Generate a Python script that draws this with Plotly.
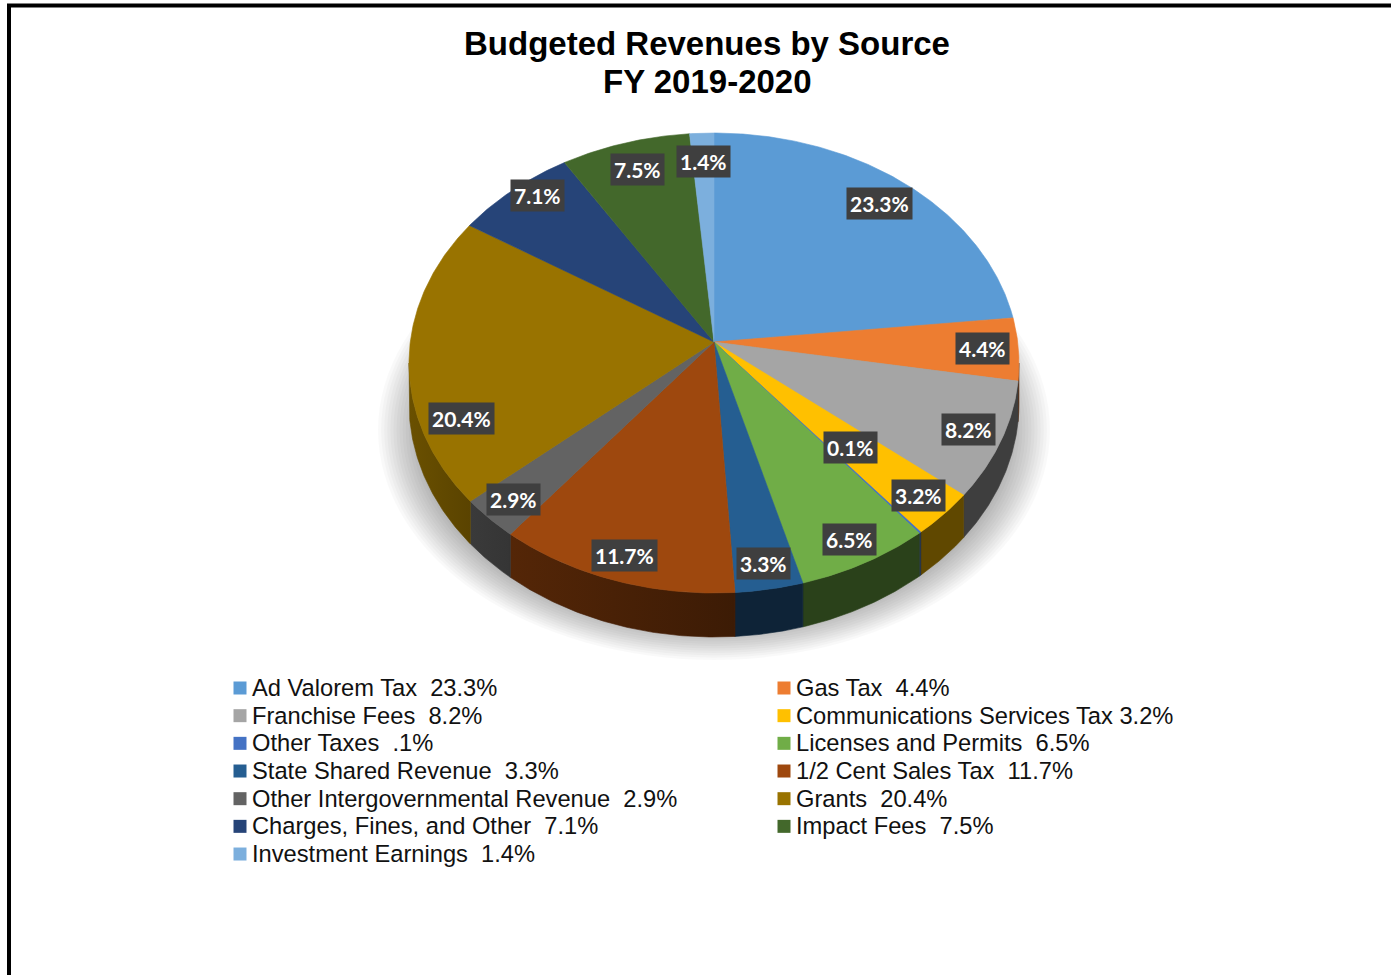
import numpy as np
import plotly.graph_objects as go

# ---- data -------------------------------------------------------------
categories = [
    "Ad Valorem Tax", "Gas Tax", "Franchise Fees", "Communications Services Tax",
    "Other Taxes", "Licenses and Permits", "State Shared Revenue",
    "1/2 Cent Sales Tax", "Other Intergovernmental Revenue", "Grants",
    "Charges, Fines, and Other", "Impact Fees", "Investment Earnings",
]
shares = [23.3, 4.4, 8.2, 3.2, 0.1, 6.5, 3.3, 11.7, 2.9, 20.4, 7.1, 7.5, 1.4]
colors = [
    "#5B9BD5", "#ED7D31", "#A5A5A5", "#FFC000", "#4472C4", "#70AD47", "#255E91",
    "#9E480E", "#636363", "#997300", "#264478", "#43682B", "#7CAFDD",
]

# ---- canvas / pie geometry (pixel-like axis units) --------------------
W, H = 1391, 975
CX, CY = 714, 342     # projected centre of the disc
SCALE = 303.7         # horizontal radius scale
TILT = 0.751          # sine of the viewing elevation
PERSP = 0.0913        # perspective strength (radius * cos(elev) / camera distance)
DEPTH = 40            # thickness of the disc

# label placement tweaks: (radius fraction, angle shift in degrees)
label_tweaks = {
    "Other Taxes": (0.62, -5.1),
    "Grants": (0.87, -17.6),
    "Charges, Fines, and Other": (0.92, 2.7),
}


def label_radius(theta_deg):
    # labels sit slightly further out toward the front of the disc
    return 0.88 - 0.025 * np.cos(np.radians(theta_deg))


def project(theta_deg, frac=1.0, drop=0.0):
    """Perspective projection of a point on the disc (theta clockwise from 12 o'clock)."""
    t = np.radians(theta_deg)
    w = 1.0 + PERSP * frac * np.cos(t)
    x = CX + SCALE * frac * np.sin(t) / w
    y = CY + (-SCALE * TILT * frac * np.cos(t) + drop) / w
    return x, y


def shade(hex_color, factor):
    h = hex_color.lstrip("#")
    r, g, b = (int(h[i:i + 2], 16) for i in (0, 2, 4))
    return "rgb({},{},{})".format(int(r * factor), int(g * factor), int(b * factor))


def side_factor(theta_deg):
    s = -np.sin(np.radians(theta_deg))
    return 0.38 + 0.32 * max(0.0, s) ** 1.5


total = float(sum(shares))
bounds = np.concatenate([[0.0], np.cumsum(shares)]) / total * 360.0

# silhouette of the cylinder wall under perspective
edge = np.degrees(np.arccos(-PERSP))
vis_lo, vis_hi = edge, 360.0 - edge

fig = go.Figure()

# ---- side walls (front half only) ------------------------------------
for i, col in enumerate(colors):
    lo = max(bounds[i], vis_lo)
    hi = min(bounds[i + 1], vis_hi)
    if hi <= lo:
        continue
    th = np.linspace(lo, hi, max(3, int((hi - lo) * 2) + 2))
    x, y = project(th)
    xb, yb = project(th, drop=DEPTH)
    px = np.concatenate([x, xb[::-1], x[:1]])
    py = np.concatenate([y, yb[::-1], y[:1]])
    left_c = shade(col, side_factor(hi))
    right_c = shade(col, side_factor(lo))
    fig.add_trace(go.Scatter(
        x=px, y=py, mode="lines", fill="toself",
        line=dict(width=0.6, color=shade(col, side_factor((lo + hi) / 2))),
        fillgradient=dict(type="horizontal",
                          colorscale=[[0, left_c], [1, right_c]]),
        hoverinfo="skip", showlegend=False,
    ))

# ---- top faces --------------------------------------------------------
for i, col in enumerate(colors):
    a0, a1 = bounds[i], bounds[i + 1]
    th = np.linspace(a0, a1, max(3, int((a1 - a0) * 2) + 2))
    x, y = project(th)
    px = np.concatenate([[CX], x, [CX]])
    py = np.concatenate([[CY], y, [CY]])
    fig.add_trace(go.Scatter(
        x=px, y=py, mode="lines", fill="toself", fillcolor=col,
        line=dict(width=0.6, color=col),
        hoverinfo="skip", showlegend=False, name=categories[i],
    ))

# ---- data labels ------------------------------------------------------
annotations = []
for i, name in enumerate(categories):
    mid = (bounds[i] + bounds[i + 1]) / 2
    frac, shift = label_tweaks.get(name, (label_radius(mid), 0.0))
    lx, ly = project(mid + shift, frac)
    annotations.append(dict(
        x=float(lx), y=float(ly), xref="x", yref="y",
        text="{:.1f}%".format(shares[i]), showarrow=False,
        font=dict(family="Lato, Carlito, 'Open Sans', sans-serif", size=21,
                  color="white", weight="bold"),
        bgcolor="#3f3f3f", borderpad=3,
    ))

# ---- legend (two columns, row-major) ---------------------------------
LEG_X = [240, 784]
LEG_Y0, LEG_DY = 688, 27.67
tight_gap = {"Communications Services Tax"}
leg_x, leg_y = [], []
for i, name in enumerate(categories):
    cx = LEG_X[i % 2]
    cy = LEG_Y0 + (i // 2) * LEG_DY
    leg_x.append(cx)
    leg_y.append(cy)
    pct = "{:.1f}".format(shares[i])
    if pct.startswith("0"):
        pct = pct[1:]
    gap = " " if name in tight_gap else "\u00a0 "
    annotations.append(dict(
        x=cx + 10, y=cy, xref="x", yref="y", xanchor="left", yanchor="middle",
        text=name + gap + pct + "%", showarrow=False,
        font=dict(family="'Liberation Sans', Arial, sans-serif", size=23.7,
                  color="#111111"),
    ))
fig.add_trace(go.Scatter(
    x=leg_x, y=leg_y, mode="markers",
    marker=dict(symbol="square", size=13, color=colors, line=dict(width=0)),
    hoverinfo="skip", showlegend=False,
))

# ---- title ------------------------------------------------------------
for txt, ty in (("Budgeted Revenues by Source", 43), ("FY 2019-2020", 81)):
    annotations.append(dict(
        x=707, y=ty, xref="x", yref="y", text=txt, showarrow=False,
        xanchor="center", yanchor="middle",
        font=dict(family="'Liberation Sans', Arial, sans-serif", size=33,
                  color="black", weight="bold"),
    ))

# ---- soft drop shadow under the pie -----------------------------------
shapes = []
n_layers = 14
for k in range(n_layers):
    t = k / (n_layers - 1)
    rx = 336 - 40 * t
    ry = 230 - 30 * t
    sy = 430
    shapes.append(dict(
        type="circle", xref="x", yref="y", layer="below",
        x0=CX - rx, x1=CX + rx, y0=sy - ry, y1=sy + ry,
        fillcolor="rgba(0,0,0,0.022)", line=dict(width=0),
    ))

# ---- frame ------------------------------------------------------------
shapes.append(dict(type="line", xref="x", yref="y", x0=7, x1=W, y0=5.5, y1=5.5,
                   line=dict(color="black", width=4)))
shapes.append(dict(type="line", xref="x", yref="y", x0=9, x1=9, y0=4, y1=H,
                   line=dict(color="black", width=4)))

fig.update_layout(
    width=W, height=H,
    margin=dict(l=0, r=0, t=0, b=0, pad=0),
    paper_bgcolor="white", plot_bgcolor="white",
    xaxis=dict(range=[0, W], visible=False, fixedrange=True),
    yaxis=dict(range=[H, 0], visible=False, fixedrange=True),
    annotations=annotations, shapes=shapes,
    showlegend=False,
)

fig.write_html("out.html")
